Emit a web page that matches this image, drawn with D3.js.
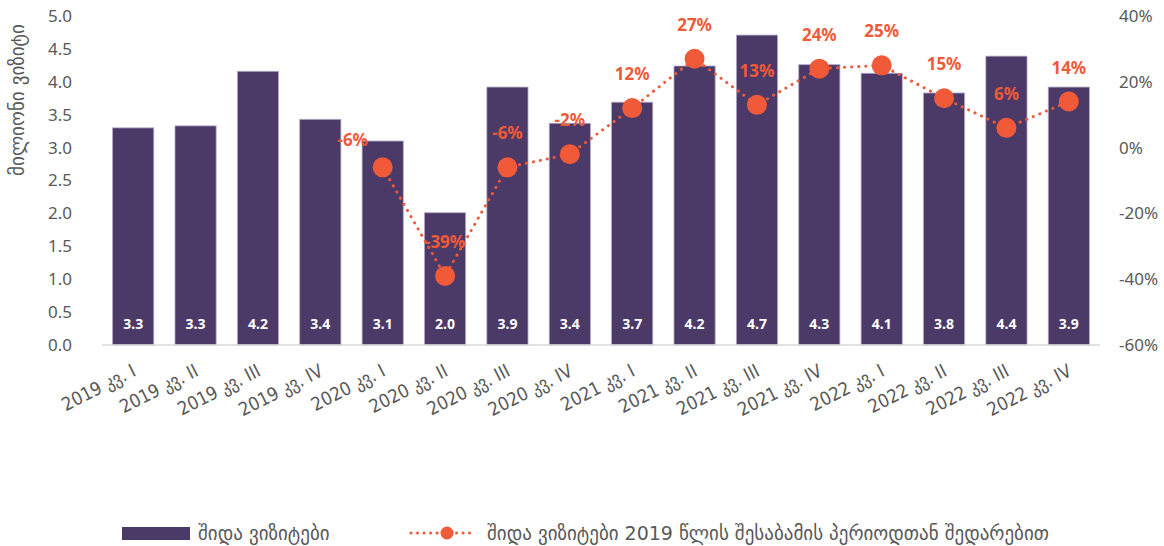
<!DOCTYPE html>
<html>
<head>
<meta charset="utf-8">
<script src="https://cdn.jsdelivr.net/npm/d3@7"></script>
<style>
  body { margin: 0; background: #fff; }
  svg text { font-family: "Noto Sans", "DejaVu Sans", sans-serif; }
  .geo { font-family: "DejaVu Sans", sans-serif; }
  .geoc { font-family: "DejaVu Sans Condensed", "DejaVu Sans", sans-serif; }
</style>
</head>
<body>
<svg id="chart" width="1164" height="546"></svg>
<script>
// chart data
const categories = ['2019 კვ. I', '2019 კვ. II', '2019 კვ. III', '2019 კვ. IV',
  '2020 კვ. I', '2020 კვ. II', '2020 კვ. III', '2020 კვ. IV',
  '2021 კვ. I', '2021 კვ. II', '2021 კვ. III', '2021 კვ. IV',
  '2022 კვ. I', '2022 კვ. II', '2022 კვ. III', '2022 კვ. IV'];
const visits = [3.30, 3.33, 4.16, 3.43, 3.10, 2.01, 3.92, 3.37, 3.69, 4.24, 4.71, 4.26, 4.13, 3.83, 4.39, 3.92];
const change2019 = [null, null, null, null, -6, -39, -6, -2, 12, 27, 13, 24, 25, 15, 6, 14];
const leftTicks = [0, 0.5, 1, 1.5, 2, 2.5, 3, 3.5, 4, 4.5, 5];
const rightTicks = [-60, -40, -20, 0, 20, 40];
const barName = 'შიდა ვიზიტები';
const lineName = 'შიდა ვიზიტები 2019 წლის შესაბამის პერიოდთან შედარებით';
const yTitle = 'მილიონი ვიზიტი';

const svg = d3.select('#chart');
const purple = '#4b3a68';
const orange = '#f15a38';
const grey = '#595959';

let plot = { left: 102, right: 1100, top: 16, bottom: 345 };

let x = d3.scaleBand()
  .domain(categories)
  .range([plot.left, plot.right])
  .paddingInner(0.34)
  .paddingOuter(0.17);

let y = d3.scaleLinear().domain([0, 5]).range([plot.bottom, plot.top]);
let y2 = d3.scaleLinear().domain([-60, 40]).range([plot.bottom, plot.top]);

// left axis
let leftAxis = svg.append('g')
  .attr('transform', `translate(${plot.left - 28},0)`)
  .call(d3.axisLeft(y).tickValues(leftTicks).tickFormat(d3.format('.1f')).tickSize(0));
leftAxis.select('.domain').remove();
leftAxis.selectAll('text').attr('fill', grey).style('font-size', '17px').attr('x', -2);

// right axis
let rightAxis = svg.append('g')
  .attr('transform', `translate(${plot.right + 19},0)`)
  .call(d3.axisRight(y2).tickValues(rightTicks).tickFormat(d => d + '%').tickSize(0));
rightAxis.select('.domain').remove();
rightAxis.selectAll('text').attr('fill', grey).style('font-size', '17px').attr('x', 0);

// y title
svg.append('text')
  .attr('class', 'geo')
  .attr('transform', 'translate(24,100) rotate(-90)')
  .attr('text-anchor', 'middle')
  .attr('fill', grey)
  .style('font-size', '19px')
  .text(yTitle);

// bars
svg.selectAll('.bar')
  .data(visits)
  .enter()
  .append('rect')
  .attr('class', 'bar')
  .attr('x', (d, i) => x(categories[i]))
  .attr('y', d => y(d))
  .attr('width', x.bandwidth())
  .attr('height', d => y(0) - y(d))
  .attr('fill', purple)
  .attr('stroke', '#b3a9c6')
  .attr('stroke-width', 0.8);

// baseline
svg.append('line')
  .attr('x1', plot.left).attr('x2', plot.right)
  .attr('y1', y(0)).attr('y2', y(0))
  .attr('stroke', '#d9d9d9')
  .attr('stroke-width', 1.5);

// bar value labels
svg.selectAll('.barlabel')
  .data(visits)
  .enter()
  .append('text')
  .attr('class', 'barlabel')
  .attr('x', (d, i) => x(categories[i]) + x.bandwidth() / 2)
  .attr('y', 329)
  .attr('text-anchor', 'middle')
  .attr('fill', '#fff')
  .style('font-size', '14px')
  .style('font-weight', 'bold')
  .text(d => d.toFixed(1));

// x labels
svg.selectAll('.xlabel')
  .data(categories)
  .enter()
  .append('text')
  .attr('class', 'xlabel geoc')
  .attr('transform', d => `translate(${x(d) + x.bandwidth() / 2 + 4},${plot.bottom + 30}) rotate(-27)`)
  .attr('text-anchor', 'end')
  .attr('fill', grey)
  .style('font-size', '18.5px')
  .text(d => d);

// line series
let pts = change2019
  .map((v, i) => ({ v: v, c: categories[i] }))
  .filter(d => d.v !== null);

let line = d3.line()
  .x(d => x(d.c) + x.bandwidth() / 2)
  .y(d => y2(d.v));

svg.append('path')
  .datum(pts)
  .attr('d', line)
  .attr('fill', 'none')
  .attr('stroke', orange)
  .attr('stroke-width', 3)
  .attr('stroke-linecap', 'round')
  .attr('stroke-dasharray', '0.1 7');

svg.selectAll('.dot')
  .data(pts)
  .enter()
  .append('circle')
  .attr('class', 'dot')
  .attr('cx', d => x(d.c) + x.bandwidth() / 2)
  .attr('cy', d => y2(d.v))
  .attr('r', 10)
  .attr('fill', orange);

// the first label sits up-left of its point, the rest above
svg.selectAll('.ptlabel')
  .data(pts)
  .enter()
  .append('text')
  .attr('class', 'ptlabel')
  .attr('x', (d, i) => x(d.c) + x.bandwidth() / 2 - (i === 0 ? 30 : 0))
  .attr('y', (d, i) => y2(d.v) - (i === 0 ? 21 : 28))
  .attr('text-anchor', 'middle')
  .attr('fill', orange)
  .style('font-size', '17px')
  .style('font-weight', 'bold')
  .text(d => d.v + '%');

// legend
let legend = svg.append('g').attr('transform', 'translate(0,533)');
legend.append('rect')
  .attr('x', 122).attr('y', -6)
  .attr('width', 68).attr('height', 13)
  .attr('fill', purple);
legend.append('text')
  .attr('class', 'geo')
  .attr('x', 198).attr('y', 0).attr('dy', '0.35em')
  .attr('fill', grey)
  .style('font-size', '19px')
  .text(barName);
legend.append('line')
  .attr('x1', 411).attr('x2', 475)
  .attr('y1', 0).attr('y2', 0)
  .attr('stroke', orange)
  .attr('stroke-width', 3)
  .attr('stroke-linecap', 'round')
  .attr('stroke-dasharray', '0.1 6.4');
legend.append('circle')
  .attr('cx', 447).attr('cy', 0).attr('r', 6.5)
  .attr('fill', orange);
legend.append('text')
  .attr('class', 'geo')
  .attr('x', 487).attr('y', 0).attr('dy', '0.35em')
  .attr('fill', grey)
  .style('font-size', '19px')
  .text(lineName);
</script>
</body>
</html>
